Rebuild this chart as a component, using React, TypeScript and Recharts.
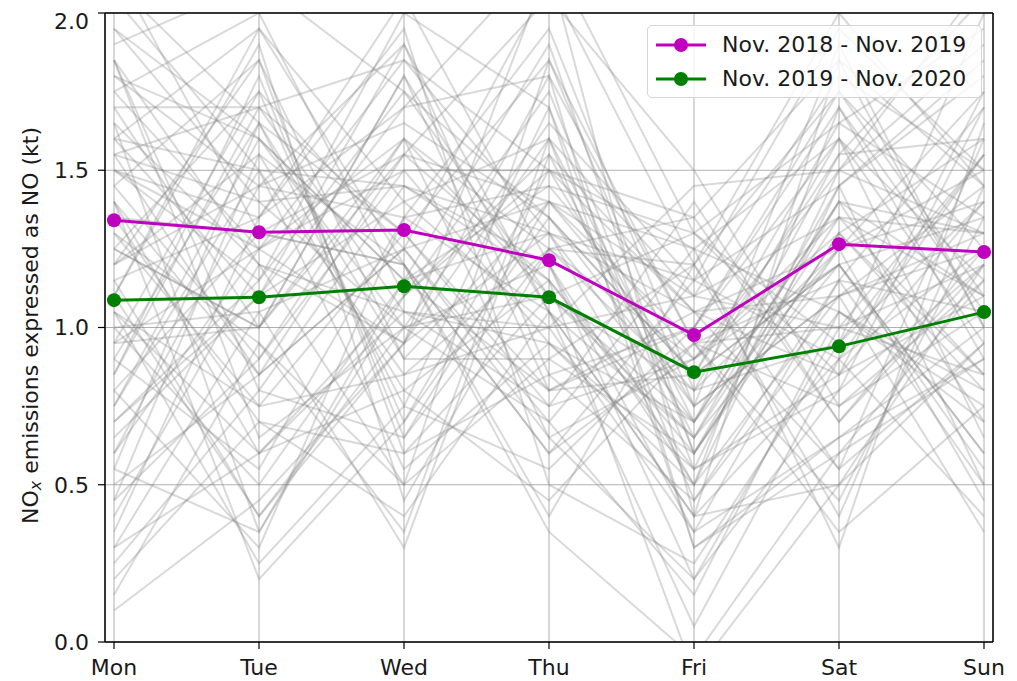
import React from 'react';
import { LineChart, Line, XAxis, YAxis, CartesianGrid } from 'recharts';

const days = ['Mon', 'Tue', 'Wed', 'Thu', 'Fri', 'Sat', 'Sun'];
const yTicks = [0, 0.5, 1.0, 1.5, 2.0];

// mean weekly profiles
const nov18 = [1.341, 1.303, 1.31, 1.214, 0.976, 1.265, 1.24];
const nov19 = [1.087, 1.096, 1.131, 1.096, 0.858, 0.94, 1.049];

// individual weeks (grey background lines)
const weeks = [
  [1.85, 1.2, 0.95, 1.6, 0.7, 1.4, 1.1],
  [0.6, 1.45, 1.9, 1.05, 0.4, 0.9, 1.55],
  [1.4, 0.85, 1.25, 2.1, 1.2, 0.55, 0.95],
  [0.95, 1.75, 0.7, 1.35, 0.85, 1.65, 1.95],
  [1.7, 1.7, 1.3, 0.8, 1.05, 1.25, 0.45],
  [0.3, 0.6, 1.1, 1.5, 0.75, 1.1, 1.3],
  [1.25, 1.0, 1.6, 0.65, 0.2, 0.8, 1.2],
  [2.05, 1.5, 0.85, 1.25, 1.35, 1.85, 1.45],
  [1.1, 0.4, 0.95, 1.8, 0.95, 0.35, 0.75],
  [0.8, 1.3, 1.55, 1.15, 0.55, 1.5, 2.1],
  [1.6, 1.95, 1.4, 1.0, 1.1, 1.0, 0.85],
  [0.15, 0.95, 0.5, 0.9, 0.6, 1.3, 1.6],
  [1.5, 1.15, 2.0, 1.7, 0.3, 0.65, 1.0],
  [1.05, 0.25, 0.75, 0.55, 1.0, 1.75, 1.25],
  [1.95, 1.6, 1.15, 1.45, 0.9, 1.2, 0.6],
  [0.7, 1.1, 1.7, 2.2, 1.3, 0.95, 1.4],
  [1.35, 0.7, 0.4, 1.05, 0.65, 1.45, 1.85],
  [0.45, 1.55, 1.2, 0.35, -0.05, 0.6, 0.9],
  [1.75, 1.25, 1.85, 1.3, 1.15, 1.95, 1.5],
  [1.2, 1.85, 0.6, 0.85, 0.45, 1.05, 0.7],
  [0.9, 0.55, 1.35, 1.95, 0.8, 1.6, 1.15],
  [1.55, 1.4, 1.0, 0.7, 1.25, 0.3, 1.65],
  [0.25, 0.8, 1.45, 1.2, 0.35, 1.15, 0.5],
  [1.9, 2.1, 1.75, 1.1, 0.7, 1.4, 1.3],
  [1.0, 1.05, 0.3, 1.55, 1.05, 0.85, 1.75],
  [1.45, 0.9, 1.5, 0.95, 0.5, 1.7, 1.05],
  [0.55, 1.65, 0.9, 1.4, 0.95, 0.45, 1.35],
  [1.65, 0.35, 1.1, 1.75, 0.6, 1.3, 0.8],
  [1.15, 1.35, 1.95, 0.5, 0.25, 0.95, 1.55],
  [0.85, 1.8, 0.65, 1.25, 1.2, 2.0, 1.45],
  [1.3, 0.75, 1.3, 1.85, 0.75, 1.1, 0.35],
  [0.4, 1.2, 1.05, 0.75, 1.4, 0.7, 1.25],
  [1.8, 1.45, 1.65, 1.35, 0.85, 1.55, 2.05],
  [1.05, 0.6, 0.8, 1.15, -0.1, 0.5, 0.95],
  [0.65, 1.1, 1.4, 1.6, 1.1, 1.35, 1.1],
  [1.6, 1.5, 0.55, 0.95, 0.55, 0.8, 1.7],
  [1.25, 1.75, 1.25, 1.4, 1.25, 1.6, 0.65],
  [0.1, 0.45, 0.95, 1.3, 0.7, 1.25, 1.4],
  [2.15, 1.3, 1.2, 0.6, 0.95, 1.0, 1.2],
  [0.95, 1.0, 1.8, 1.05, 0.4, 1.85, 1.0],
  [1.4, 0.2, 0.7, 1.5, 1.05, 0.55, 1.6],
  [0.75, 1.6, 1.15, 0.8, 0.85, 1.2, 0.55],
  [1.7, 1.0, 1.55, 2.05, 1.5, 0.75, 1.15],
  [1.1, 1.9, 0.45, 1.25, 0.9, 1.5, 1.9],
  [0.5, 0.85, 1.25, 0.7, 0.15, 1.05, 0.75],
  [1.5, 1.25, 1.6, 1.1, 0.65, 1.35, 1.3],
  [1.85, 0.65, 1.0, 1.65, 1.15, 0.9, 0.4],
  [0.35, 1.35, 2.05, 1.2, 0.5, 1.45, 1.8],
  [1.2, 1.55, 0.8, 0.45, 0.95, 1.15, 1.05],
  [0.8, 0.3, 1.35, 1.45, 1.3, 1.65, 1.35],
  [1.55, 1.7, 1.05, 1.0, 0.35, 0.65, 0.9],
  [0.2, 0.7, 0.6, 1.1, 0.8, 1.25, 1.5],
  [1.95, 1.4, 1.45, 1.3, 1.05, 1.1, 1.25],
  [1.0, 0.5, 1.15, 1.9, 0.6, 1.4, 0.7],
  [1.45, 1.85, 0.9, 0.9, 1.2, 0.4, 1.45],
  [0.7, 1.15, 1.75, 1.35, 0.75, 1.9, 1.0],
  [1.3, 0.95, 0.35, 1.6, 0.45, 1.15, 1.7],
  [2.1, 1.65, 1.3, 0.75, 0.9, 1.3, 0.85],
  [0.6, 1.25, 1.5, 1.5, 1.35, 0.7, 1.2],
  [1.15, 0.4, 1.0, 1.2, 0.2, 1.0, 1.55],
  [1.6, 1.1, 1.9, 0.85, 1.0, 1.6, 0.95],
  [0.9, 1.65, 0.75, 1.7, 0.55, 0.85, 1.4],
  [1.35, 1.3, 1.2, 0.4, 1.2, 1.75, 1.1],
  [0.45, 0.9, 1.6, 1.25, 0.8, 0.95, 2.0],
  [1.75, 2.0, 1.1, 1.55, 0.65, 1.2, 0.6],
  [1.05, 0.75, 0.85, 1.0, 1.45, 1.5, 1.3],
  [1.5, 1.35, 1.7, 1.8, 0.3, 0.6, 1.15],
  [0.3, 1.05, 1.25, 0.65, 0.9, 1.35, 0.85],
  [1.85, 0.8, 0.65, 1.4, 1.1, 1.8, 1.5],
  [1.2, 1.45, 1.35, 1.05, 0.05, 0.9, 1.25],
  [0.85, 1.7, 1.85, 1.5, 1.25, 1.05, 0.8],
  [1.4, 0.6, 1.05, 0.95, 0.7, 1.55, 1.6],
  [1.65, 1.2, 0.5, 1.85, 0.95, 0.75, 1.05],
  [0.75, 1.5, 1.45, 1.15, 0.6, 1.25, 1.75],
  [1.1, 1.95, 1.2, 0.6, 1.15, 1.45, 0.5],
  [1.55, 0.85, 1.55, 1.4, 0.85, 1.2, 1.35],
  [0.95, 1.25, 0.95, 2.15, 0.4, 0.5, 1.2],
  [1.25, 1.0, 1.8, 0.8, 1.0, 1.7, 0.9],
  [0.55, 0.35, 1.15, 1.3, 0.5, 1.1, 1.45],
  [1.8, 1.6, 1.0, 1.1, 1.3, 0.85, 1.1],
];

const legendItems = [
  { label: 'Nov. 2018 - Nov. 2019', color: '#bf00bf' },
  { label: 'Nov. 2019 - Nov. 2020', color: '#008000' },
];

const data = days.map((day, i) => {
  const row: any = { day, nov18: nov18[i], nov19: nov19[i] };
  weeks.forEach((w, k) => {
    row['w' + k] = w[i];
  });
  return row;
});

const font = 'DejaVu Sans';

const LegendBox = () => (
  <div
    style={{
      position: 'absolute',
      left: 639,
      top: 17,
      width: 335,
      height: 73,
      boxSizing: 'border-box',
      border: '1px solid #d5d5d5',
      borderRadius: 5,
      background: 'rgba(255,255,255,0.8)',
      fontFamily: font,
      fontSize: 22,
      color: '#1a1a1a',
    }}
  >
    {legendItems.map((it, i) => (
      <div key={it.label} style={{ position: 'absolute', left: 0, top: 19 + i * 34 - 14, height: 28, width: 335 }}>
        <svg width={60} height={28} style={{ position: 'absolute', left: 0, top: 0 }}>
          <line x1={8} y1={14} x2={58} y2={14} stroke={it.color} strokeWidth={3} />
          <circle cx={33} cy={14} r={7} fill={it.color} />
        </svg>
        <span style={{ position: 'absolute', left: 74, top: 0, lineHeight: '28px', whiteSpace: 'nowrap' }}>{it.label}</span>
      </div>
    ))}
  </div>
);

const YLabel = (props: any) => {
  const vb = props.viewBox || { y: 5, height: 629 };
  const cy = vb.y + vb.height / 2 - 2;
  return (
    <text
      x={22}
      y={cy}
      transform={`rotate(-90, 22, ${cy})`}
      textAnchor="middle"
      dominantBaseline="central"
      fontFamily={font}
      fontSize={22}
      fill="#1a1a1a"
    >
      NO
      <tspan fontStyle="italic" fontSize={16} dy={5}>x</tspan>
      <tspan dy={-5}> emissions expressed as NO (kt)</tspan>
    </text>
  );
};

const App = () => {
  return (
    <div style={{ position: 'relative', width: 1009, height: 673 }}>
      <LineChart width={1009} height={673} data={data} margin={{ top: 4, right: 23, left: 0, bottom: 0 }}>
        <CartesianGrid stroke="#b0b0b0" strokeWidth={1} />
        <XAxis
          dataKey="day"
          padding={{ left: 9, right: 9 }}
          height={39}
          tickSize={7}
          tickMargin={10}
          axisLine={{ stroke: '#000', strokeWidth: 1.5 }}
          tickLine={{ stroke: '#000', strokeWidth: 1.2 }}
          tick={{ fill: '#1a1a1a', fontFamily: font, fontSize: 22 }}
        />
        <XAxis
          xAxisId="top"
          dataKey="day"
          orientation="top"
          height={1}
          tick={false}
          tickLine={false}
          padding={{ left: 9, right: 9 }}
          axisLine={{ stroke: '#000', strokeWidth: 1.5 }}
        />
        <YAxis
          type="number"
          domain={[0, 2]}
          allowDataOverflow
          ticks={yTicks}
          width={97}
          tickSize={7}
          tickMargin={9}
          tickFormatter={(v: number) => v.toFixed(1)}
          axisLine={{ stroke: '#000', strokeWidth: 1.5 }}
          tickLine={{ stroke: '#000', strokeWidth: 1.2 }}
          tick={{ fill: '#1a1a1a', fontFamily: font, fontSize: 22 }}
          label={{ content: (p: any) => <YLabel {...p} /> }}
        />
        <YAxis
          yAxisId="right"
          orientation="right"
          type="number"
          domain={[0, 2]}
          allowDataOverflow
          width={1}
          tick={false}
          tickLine={false}
          axisLine={{ stroke: '#000', strokeWidth: 1.5 }}
        />
        {weeks.map((_, k) => (
          <Line
            key={k}
            dataKey={'w' + k}
            stroke="#808080"
            strokeOpacity={0.3}
            strokeWidth={2}
            dot={false}
            activeDot={false}
            legendType="none"
            isAnimationActive={false}
          />
        ))}
        <Line dataKey="nov18" stroke="#bf00bf" strokeWidth={3} dot={{ r: 7, fill: '#bf00bf', stroke: '#bf00bf', strokeWidth: 0 }} activeDot={false} isAnimationActive={false} />
        <Line dataKey="nov19" stroke="#008000" strokeWidth={3} dot={{ r: 7, fill: '#008000', stroke: '#008000', strokeWidth: 0 }} activeDot={false} isAnimationActive={false} />
        {/* invisible series so the top / right frame axes get drawn */}
        <Line xAxisId="top" yAxisId="right" dataKey="nov18" stroke="none" dot={false} activeDot={false} legendType="none" isAnimationActive={false} />
      </LineChart>
      <LegendBox />
    </div>
  );
};

export default App;
